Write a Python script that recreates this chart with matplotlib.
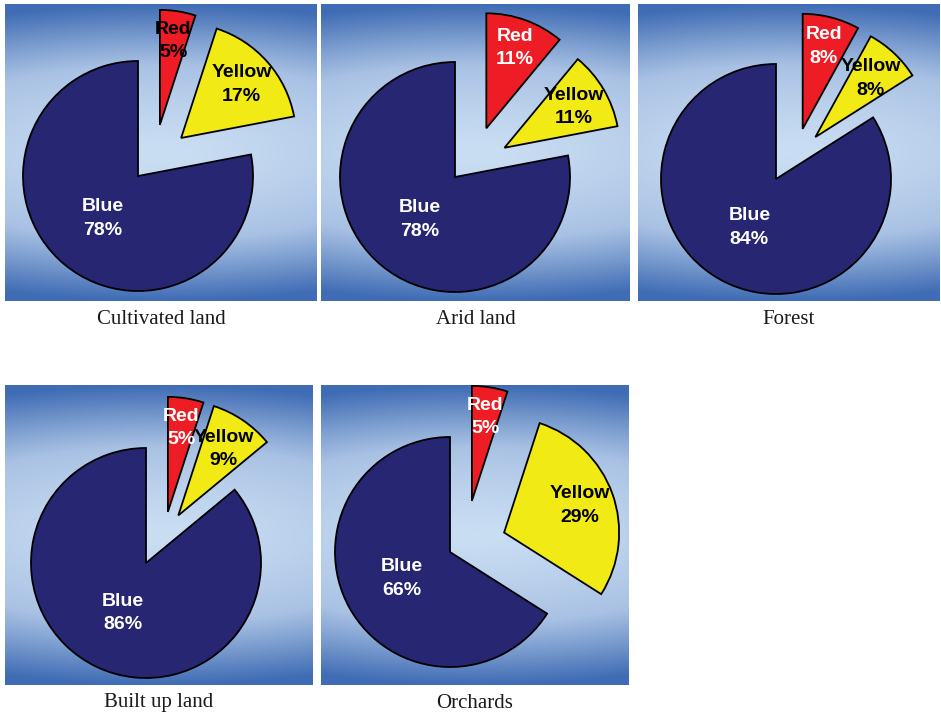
import numpy as np
import matplotlib
matplotlib.use("Agg")
import matplotlib.pyplot as plt
from matplotlib.colors import LinearSegmentedColormap

# data
land_types = ["Cultivated land", "Arid land", "Forest", "Built up land", "Orchards"]
categories = ["Blue", "Yellow", "Red"]
blue_pct = [78, 78, 84, 86, 66]
yellow_pct = [17, 11, 8, 9, 29]
red_pct = [5, 11, 8, 5, 5]

# layout (pixels, figure is 941x716)
FIG_W, FIG_H = 941, 716
panel_boxes = [  # left, top, right, bottom
    (5, 4, 317, 301),
    (321, 4, 630, 301),
    (638, 4, 940, 301),
    (5, 385, 313, 685),
    (321, 385, 629, 685),
]
pie_centers = [(133, 172), (134, 173), (138, 175), (141, 178), (129, 167)]  # from panel top-left
caption_y = [320, 320, 320, 703, 703]
RADIUS = 115

wedge_colors = ["#262672", "#f2ea14", "#ee1c24"]
explode_frac = [0.0, 0.5, 0.45]
red_nudge = 0.12
label_dist = [0.48, 0.70, 0.74]
red_text_colors = ["black", "white", "white", "white", "white"]

bg_cmap = LinearSegmentedColormap.from_list("bg", ["#cadef3", "#a9c2e4", "#3f6cb4"])


def background(w, h):
    xx, yy = np.meshgrid(np.linspace(-1, 1, w), np.linspace(-1, 1, h))
    d = np.sqrt((0.34 * xx) ** 2 + yy ** 2)
    return np.clip(d, 0, 1) ** 1.3


fig = plt.figure(figsize=(FIG_W / 100, FIG_H / 100), dpi=100)

for i, name in enumerate(land_types):
    l, t, r, b = panel_boxes[i]
    w, h = r - l, b - t
    ax = fig.add_axes([l / FIG_W, 1 - b / FIG_H, w / FIG_W, h / FIG_H])
    ax.imshow(background(w, h), cmap=bg_cmap, extent=(0, w, 0, h), aspect="auto",
              vmin=0, vmax=1, interpolation="bilinear", zorder=0)

    cx, cy = pie_centers[i][0], h - pie_centers[i][1]
    vals = [blue_pct[i], yellow_pct[i], red_pct[i]]
    wedges, _ = ax.pie(
        vals,
        colors=wedge_colors,
        startangle=90,
        counterclock=True,
        explode=[e * RADIUS for e in explode_frac],
        radius=RADIUS,
        center=(cx, cy),
        wedgeprops=dict(edgecolor="black", linewidth=1.3),
        frame=True,
    )
    # red slice sits a bit further right in the original
    rc = wedges[2].center
    wedges[2].set_center((rc[0] + red_nudge * RADIUS, rc[1]))

    txt_colors = ["white", "black", red_text_colors[i]]
    for k, wdg in enumerate(wedges):
        mid = np.deg2rad((wdg.theta1 + wdg.theta2) / 2)
        x0, y0 = wdg.center
        dist = label_dist[k] * RADIUS
        ax.text(x0 + dist * np.cos(mid), y0 + dist * np.sin(mid),
                f"{categories[k]}\n{vals[k]}%", ha="center", va="center",
                fontsize=14, fontweight="bold", family="Liberation Sans",
                color=txt_colors[k], linespacing=1.5, zorder=5)

    ax.set_xlim(0, w)
    ax.set_ylim(0, h)
    ax.set_aspect("auto")
    ax.set_xticks([])
    ax.set_yticks([])
    for s in ax.spines.values():
        s.set_visible(False)

    fig.text((l + r) / 2 / FIG_W, 1 - caption_y[i] / FIG_H, name, ha="center", va="center",
             fontsize=15, family="Liberation Serif", color="#1a1a1a")

fig.savefig("out.png", dpi=100)
